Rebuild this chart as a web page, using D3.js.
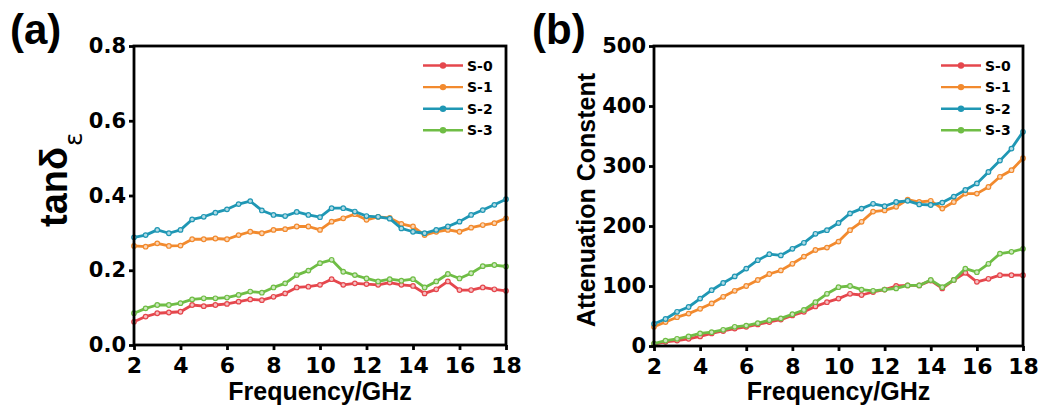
<!DOCTYPE html>
<html>
<head>
<meta charset="utf-8">
<script src="https://cdn.jsdelivr.net/npm/d3@7/dist/d3.min.js"></script>
<style>
    body { margin: 0; background: #fff; }
    svg { display: block; }
</style>
</head>
<body>
<script>

// frequency grid (GHz), shared by every series
var freq = [2, 2.5, 3, 3.5, 4, 4.5, 5, 5.5, 6, 6.5, 7, 7.5, 8, 8.5, 9, 9.5, 10,
    10.5, 11, 11.5, 12, 12.5, 13, 13.5, 14, 14.5, 15, 15.5, 16, 16.5, 17, 17.5, 18];

var seriesNames = ['S-0', 'S-1', 'S-2', 'S-3'];
var seriesColors = ['#e5474d', '#f28a2e', '#1f97b4', '#6fbd45'];

// (a) dielectric loss tangent
var tanS0 = [0.062, 0.076, 0.085, 0.087, 0.089, 0.107, 0.104, 0.107, 0.110, 0.116, 0.122, 0.120, 0.129, 0.138, 0.154, 0.156, 0.161,
    0.176, 0.161, 0.165, 0.163, 0.161, 0.167, 0.161, 0.158, 0.138, 0.149, 0.170, 0.147, 0.147, 0.154, 0.149, 0.145];
var tanS1 = [0.265, 0.263, 0.272, 0.265, 0.266, 0.283, 0.283, 0.285, 0.283, 0.294, 0.303, 0.299, 0.308, 0.310, 0.317, 0.317, 0.308,
    0.330, 0.339, 0.350, 0.335, 0.343, 0.340, 0.324, 0.317, 0.294, 0.303, 0.308, 0.303, 0.314, 0.321, 0.326, 0.339];
var tanS2 = [0.288, 0.294, 0.308, 0.299, 0.308, 0.336, 0.343, 0.354, 0.363, 0.377, 0.385, 0.360, 0.348, 0.345, 0.356, 0.348, 0.342,
    0.366, 0.366, 0.357, 0.345, 0.343, 0.338, 0.312, 0.303, 0.299, 0.308, 0.317, 0.330, 0.348, 0.361, 0.375, 0.390];
var tanS3 = [0.085, 0.098, 0.107, 0.107, 0.112, 0.122, 0.125, 0.125, 0.127, 0.134, 0.143, 0.140, 0.154, 0.165, 0.187, 0.199, 0.219,
    0.228, 0.196, 0.187, 0.178, 0.170, 0.176, 0.172, 0.176, 0.154, 0.170, 0.190, 0.178, 0.192, 0.211, 0.214, 0.210];

// (b) attenuation constant
var attS0 = [3, 7, 9, 12, 16, 21, 25, 29, 32, 36, 40, 44, 51, 57, 66, 73, 79,
    87, 85, 90, 94, 100, 101, 101, 109, 96, 110, 122, 107, 112, 118, 118, 118];
var attS1 = [32, 40, 48, 54, 62, 71, 82, 92, 100, 110, 120, 126, 137, 149, 160, 164, 174,
    193, 207, 224, 226, 232, 244, 240, 242, 229, 240, 254, 254, 265, 282, 293, 313];
var attS2 = [37, 45, 57, 65, 79, 93, 105, 116, 129, 143, 153, 151, 162, 172, 187, 193, 205,
    221, 229, 237, 233, 240, 242, 236, 235, 239, 249, 260, 271, 290, 309, 329, 357];
var attS3 = [4, 9, 12, 16, 21, 23, 27, 32, 34, 38, 43, 46, 53, 60, 73, 87, 98,
    100, 94, 92, 94, 96, 101, 101, 110, 98, 110, 129, 123, 137, 154, 157, 162];

var xTicks = [2, 4, 6, 8, 10, 12, 14, 16, 18];
var tanTicks = [0, 0.2, 0.4, 0.6, 0.8];
var attTicks = [0, 100, 200, 300, 400, 500];

var tickFont = 'DejaVu Sans, sans-serif',
    titleFont = 'Liberation Sans, Arial, sans-serif';

var svg = d3.select('body')
    .append('svg')
    .attr('width', 1041)
    .attr('height', 414);


function drawPanel(p) {
    var g = svg.append('g')
        .attr('transform', 'translate(' + p.left + ',' + p.top + ')');

    var x = d3.scaleLinear().domain([2, 18]).range([0, p.width]);
    var y = d3.scaleLinear().domain(p.yDomain).range([p.height, 0]);

    var line = d3.line()
        .x(function(d) { return x(d[0]); })
        .y(function(d) { return y(d[1]); });

    p.series.forEach(function(vals, i) {
        var pts = freq.map(function(f, j) { return [f, vals[j]]; });
        var c = seriesColors[i];

        g.append('path')
            .datum(pts)
            .attr('fill', 'none')
            .attr('stroke', c)
            .attr('stroke-width', 2.8)
            .attr('stroke-linejoin', 'round')
            .attr('d', line);

        // little hollow-looking markers along the curve
        g.append('g')
            .selectAll('circle')
            .data(pts)
            .enter()
            .append('circle')
            .attr('cx', function(d) { return x(d[0]); })
            .attr('cy', function(d) { return y(d[1]); })
            .attr('r', 2.3)
            .attr('fill', d3.interpolateRgb(c, '#fff')(0.65))
            .attr('stroke', c)
            .attr('stroke-width', 1.2);
    });

    // frame
    g.append('rect')
        .attr('width', p.width)
        .attr('height', p.height)
        .attr('fill', 'none')
        .attr('stroke', '#000')
        .attr('stroke-width', 2.8);

    var xAxis = g.append('g')
        .attr('transform', 'translate(0,' + p.height + ')')
        .call(d3.axisBottom(x)
            .tickValues(xTicks)
            .tickSize(5)
            .tickPadding(7)
            .tickFormat(d3.format('d')));

    var yAxis = g.append('g')
        .call(d3.axisLeft(y)
            .tickValues(p.yTicks)
            .tickSize(5)
            .tickPadding(3)
            .tickFormat(p.yFormat));

    [xAxis, yAxis].forEach(function(a) {
        a.select('.domain').remove();
        a.selectAll('.tick line')
            .attr('stroke', '#000')
            .attr('stroke-width', 2.8);
        a.selectAll('.tick text')
            .attr('fill', '#000')
            .style('font-family', tickFont)
            .style('font-weight', 'bold');
    });
    xAxis.selectAll('.tick text').style('font-size', '22px');
    yAxis.selectAll('.tick text').style('font-size', '21px');

    // legend
    var leg = svg.append('g')
        .attr('transform', 'translate(' + p.legendX + ',65.5)');
    seriesNames.forEach(function(name, i) {
        var row = leg.append('g')
            .attr('transform', 'translate(0,' + (i * 21.6) + ')');
        row.append('line')
            .attr('x1', 0)
            .attr('x2', 40)
            .attr('stroke', seriesColors[i])
            .attr('stroke-width', 2.4);
        row.append('circle')
            .attr('cx', 20)
            .attr('r', 3.2)
            .attr('fill', seriesColors[i]);
        row.append('text')
            .attr('x', 44)
            .attr('dy', '0.36em')
            .style('font-family', tickFont)
            .style('font-weight', 'bold')
            .style('font-size', '14px')
            .text(name);
    });

    // x title
    svg.append('text')
        .attr('x', p.left + p.width / 2)
        .attr('y', 400)
        .attr('text-anchor', 'middle')
        .style('font-family', titleFont)
        .style('font-weight', 'bold')
        .style('font-size', '25px')
        .text('Frequency/GHz');

    // panel tag
    svg.append('text')
        .attr('x', p.tagX)
        .attr('y', 44)
        .style('font-family', titleFont)
        .style('font-weight', 'bold')
        .style('font-size', '42px')
        .text(p.tag);
}


drawPanel({
    left: 134, top: 46, width: 372, height: 299,
    yDomain: [0, 0.8], yTicks: tanTicks, yFormat: d3.format('.1f'),
    series: [tanS0, tanS1, tanS2, tanS3],
    legendX: 423, tagX: 10, tag: '(a)'
});

drawPanel({
    left: 654, top: 46, width: 369, height: 300,
    yDomain: [0, 500], yTicks: attTicks, yFormat: d3.format('d'),
    series: [attS0, attS1, attS2, attS3],
    legendX: 941, tagX: 532, tag: '(b)'
});

// y titles
var tanLabel = svg.append('text')
    .attr('transform', 'translate(67,227) rotate(-90)')
    .style('font-family', titleFont);
tanLabel.append('tspan')
    .style('font-weight', 'bold')
    .style('font-size', '38px')
    .text('tanδ');
tanLabel.append('tspan')
    .attr('dy', 15)
    .attr('dx', 1)
    .style('font-family', 'DejaVu Sans, sans-serif')
    .style('font-size', '25px')
    .text('ε');

svg.append('text')
    .attr('transform', 'translate(595,200) rotate(-90)')
    .attr('text-anchor', 'middle')
    .style('font-family', titleFont)
    .style('font-weight', 'bold')
    .style('font-size', '25px')
    .text('Attenuation Constent');

</script>
</body>
</html>
